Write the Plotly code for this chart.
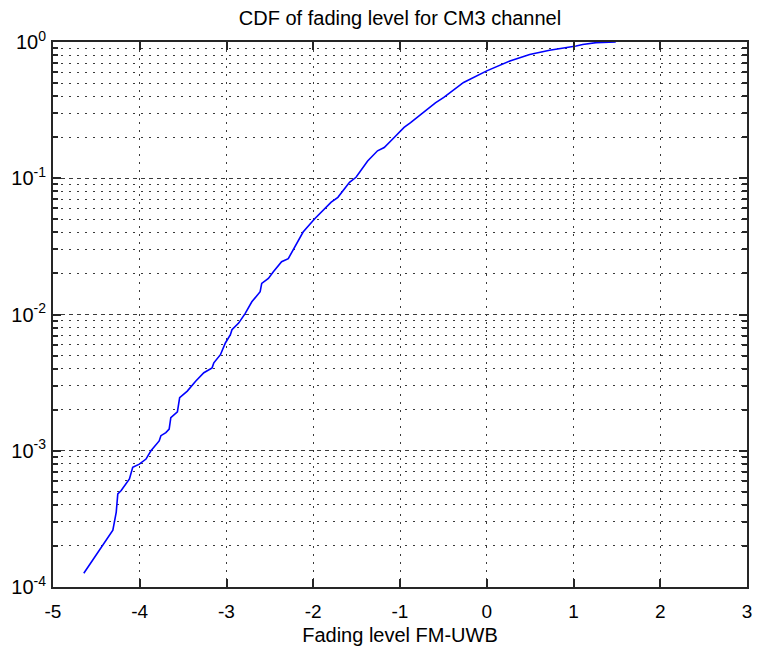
import plotly.graph_objects as go

# Empirical CDF of the fading level (FM-UWB, CM3 channel)
fading_level = [
    -4.645, -4.328, -4.310, -4.271, -4.253, -4.214, -4.119, -4.081, -4.005, -3.928,
    -3.871, -3.776, -3.756, -3.699, -3.661, -3.642, -3.566, -3.540, -3.452, -3.356,
    -3.261, -3.166, -3.146, -3.070, -3.013, -2.955, -2.937, -2.860, -2.784, -2.708,
    -2.612, -2.594, -2.517, -2.460, -2.365, -2.288, -2.117, -1.983, -1.907, -1.793,
    -1.716, -1.582, -1.507, -1.373, -1.259, -1.182, -1.067, -0.953, -0.878, -0.763,
    -0.592, -0.495, -0.267, 0.000, 0.267, 0.495, 0.724, 1.030, 1.106, 1.259, 1.487,
]
cdf_value = [
    1.26e-4, 2.46e-4, 2.61e-4, 3.55e-4, 4.82e-4, 5.11e-4, 6.21e-4, 7.55e-4, 7.98e-4, 8.69e-4,
    1.00e-3, 1.18e-3, 1.29e-3, 1.36e-3, 1.44e-3, 1.75e-3, 1.93e-3, 2.45e-3, 2.74e-3, 3.24e-3,
    3.74e-3, 4.06e-3, 4.42e-3, 5.07e-3, 6.18e-3, 7.10e-3, 7.73e-3, 8.65e-3, 1.02e-2, 1.24e-2,
    1.47e-2, 1.69e-2, 1.84e-2, 2.06e-2, 2.44e-2, 2.57e-2, 4.03e-2, 5.04e-2, 5.64e-2, 6.67e-2,
    7.24e-2, 9.33e-2, 0.1016, 0.134, 0.159, 0.168, 0.199, 0.236, 0.256, 0.294,
    0.358, 0.392, 0.505, 0.614, 0.726, 0.811, 0.869, 0.935, 0.959, 0.989, 1.0,
]

x_ticks = [-5, -4, -3, -2, -1, 0, 1, 2, 3]
x_tick_labels = ["-5", "-4", "-3", "-2", "-1", "0", "1", "2", "3"]
y_ticks = [1e-4, 1e-3, 1e-2, 1e-1, 1e0]
y_tick_labels = ["10<sup>-4</sup>", "10<sup>-3</sup>", "10<sup>-2</sup>",
                 "10<sup>-1</sup>", "10<sup>0</sup>"]
y_minor_ticks = [m * d for d in (1e-4, 1e-3, 1e-2, 1e-1) for m in range(2, 10)]

FONT = "Liberation Sans, Arial, sans-serif"
AXIS_COLOR = "#262626"
GRID_COLOR = "#3a3a3a"

fig = go.Figure(
    go.Scatter(
        x=fading_level,
        y=cdf_value,
        mode="lines",
        line=dict(color="#0000ff", width=1.6),
        showlegend=False,
    )
)

fig.update_layout(
    width=761,
    height=652,
    margin=dict(l=53, r=9, t=42, b=61),
    paper_bgcolor="white",
    plot_bgcolor="white",
    font=dict(family=FONT, size=19, color="black"),
    title=dict(
        text="CDF of fading level for CM3 channel",
        font=dict(family=FONT, size=20, color="black"),
        x=0.5,
        xref="paper",
        xanchor="center",
        y=1 - 18 / 652,
        yref="container",
        yanchor="middle",
    ),
)

fig.update_xaxes(
    range=[-5, 3],
    tickmode="array",
    tickvals=x_ticks,
    ticktext=x_tick_labels,
    ticks="inside",
    ticklen=8,
    tickwidth=1.5,
    tickcolor=AXIS_COLOR,
    ticklabelstandoff=6,
    showline=True,
    linecolor=AXIS_COLOR,
    linewidth=2,
    mirror="ticks",
    showgrid=True,
    gridcolor=GRID_COLOR,
    gridwidth=1,
    griddash="1.5px,6.5px",
    zeroline=False,
    title=dict(text="Fading level FM-UWB", font=dict(family=FONT, size=20), standoff=7),
)

fig.update_yaxes(
    type="log",
    range=[-4, 0],
    tickmode="array",
    tickvals=y_ticks,
    ticktext=y_tick_labels,
    ticks="inside",
    ticklen=8,
    tickwidth=1.5,
    tickcolor=AXIS_COLOR,
    tickfont=dict(family=FONT, size=20),
    ticklabelstandoff=1,
    showline=True,
    linecolor=AXIS_COLOR,
    linewidth=2,
    mirror="ticks",
    showgrid=True,
    gridcolor=GRID_COLOR,
    gridwidth=1,
    griddash="4px,4px",
    zeroline=False,
    minor=dict(
        tickmode="array",
        tickvals=y_minor_ticks,
        ticks="inside",
        ticklen=5,
        tickwidth=1.5,
        tickcolor=AXIS_COLOR,
        showgrid=True,
        gridcolor=GRID_COLOR,
        gridwidth=1,
        griddash="1.5px,6.5px",
    ),
)

fig.write_html("out.html")
